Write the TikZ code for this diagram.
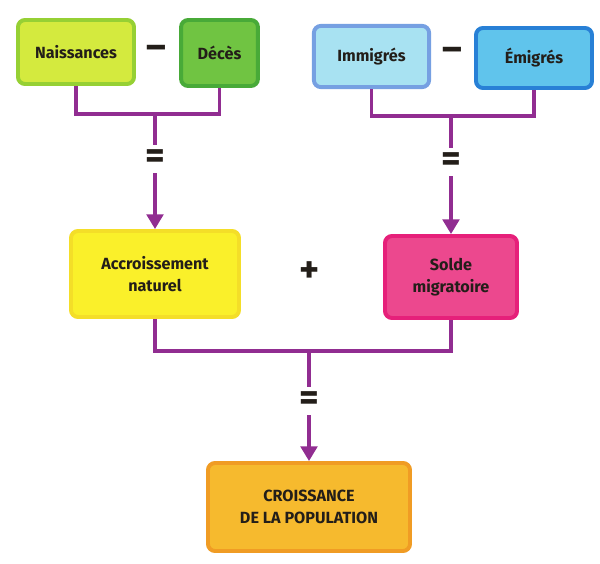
\documentclass[tikz,border=0pt]{standalone}
\usepackage{fontspec}
\setmainfont{Fira Sans}
\usepackage{tikz}
\usetikzlibrary{arrows.meta}
\usepackage{xcolor}
\definecolor{linkP}{RGB}{145,45,145}
\definecolor{inkT}{RGB}{35,30,25}
\definecolor{naisF}{RGB}{212,234,62}
\definecolor{naisD}{RGB}{150,208,52}
\definecolor{decF}{RGB}{112,196,66}
\definecolor{decD}{RGB}{72,170,56}
\definecolor{immF}{RGB}{168,226,242}
\definecolor{immD}{RGB}{118,160,226}
\definecolor{emiF}{RGB}{96,196,236}
\definecolor{emiD}{RGB}{40,128,214}
\definecolor{accF}{RGB}{250,240,42}
\definecolor{accD}{RGB}{244,222,40}
\definecolor{solF}{RGB}{236,72,142}
\definecolor{solD}{RGB}{230,32,122}
\definecolor{croF}{RGB}{246,186,46}
\definecolor{croD}{RGB}{240,156,36}

\begin{document}
\begin{tikzpicture}[x=0.025cm,y=-0.025cm,
    box/.style={rounded corners=5pt,line width=2.8pt,align=center,inner sep=0pt,
      text=inkT,font=\fontsize{11.5}{15.5}\selectfont\bfseries},
    sign/.style={text=inkT,inner sep=0pt,font=\fontsize{27}{27}\selectfont\bfseries},
    eqsign/.style={sign,minimum height=0.7cm},
    link/.style={linkP,line width=2.2pt},
    arr/.style={link,-{Triangle[width=12pt,length=10.5pt]}}]
  \useasboundingbox (0,0) rectangle (600,564);
  % natural growth
  \node[box,fill=naisF,draw=naisD,minimum width=2.9cm,minimum height=1.6cm] (nais) at (76,52) {Naissances};
  \node[box,fill=decF,draw=decD,minimum width=1.92cm,minimum height=1.65cm] (deces) at (219.5,53) {Décès};
  \node[sign] (moinsA) at (156,52) {–};
  % migration
  \node[box,fill=immF,draw=immD,minimum width=2.88cm,minimum height=1.53cm] (immi) at (371.5,56.5) {Immigrés};
  \node[box,fill=emiF,draw=emiD,minimum width=2.9cm,minimum height=1.5cm] (emi) at (534,58) {Émigrés};
  \node[sign] (moinsB) at (452,54) {–};
  % middle row
  \node[box,fill=accF,draw=accD,minimum width=4.2cm,minimum height=2.15cm] (acc) at (155,274) {Accroissement\\naturel};
  \node[box,fill=solF,draw=solD,minimum width=3.3cm,minimum height=2.05cm] (solde) at (451,277) {Solde\\migratoire};
  \node[sign] (plus) at (310,272) {+};
  % result
  \node[box,fill=croF,draw=croD,minimum width=5.05cm,minimum height=2.2cm] (crois) at (309,507) {CROISSANCE\\DE LA POPULATION};
  % connectors
  \coordinate (jA) at (155,114);
  \coordinate (jB) at (451,116);
  \coordinate (jC) at (309,351);
  \node[eqsign] (eqA) at (155,159) {=};
  \node[eqsign] (eqB) at (451,162) {=};
  \node[eqsign] (eqC) at (309,401) {=};
  \draw[link] (nais.south) |- (jA) -| (deces.south);
  \draw[link] (immi.south) |- (jB) -| (emi.south);
  \draw[link] (acc.south) |- (jC) -| (solde.south);
  \draw[link] (jA) -- (eqA.north);
  \draw[link] (jB) -- (eqB.north);
  \draw[link] (jC) -- (eqC.north);
  \draw[arr] (eqA.south) -- (acc.north);
  \draw[arr] (eqB.south) -- (solde.north);
  \draw[arr] (eqC.south) -- (crois.north);
\end{tikzpicture}
\end{document}
